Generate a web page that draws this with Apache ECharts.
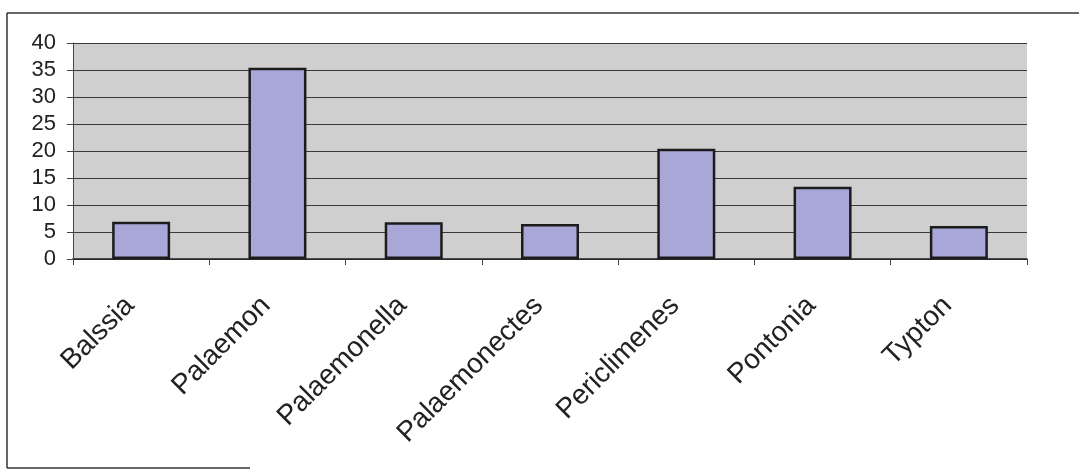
<!DOCTYPE html>
<html>
<head>
<meta charset="utf-8">
<script src="https://cdn.jsdelivr.net/npm/echarts@6/dist/echarts.min.js"></script>
<style>
html,body{margin:0;padding:0;background:#fff;}
#chart{width:1079px;height:469px;}
</style>
</head>
<body>
<div id="chart"></div>
<script>
const categories = ['Balssia', 'Palaemon', 'Palaemonella', 'Palaemonectes', 'Periclimenes', 'Pontonia', 'Typton'];
const values = [6.9, 35.4, 6.8, 6.5, 20.4, 13.4, 6.1];
const yMin = 0, yMax = 40, yStep = 5;

const chart = echarts.init(document.getElementById('chart'), null, {renderer: 'canvas'});
chart.setOption({
  backgroundColor: '#ffffff',
  animation: false,
  grid: {
    left: 73, right: 52, top: 43, bottom: 210,
    show: true, backgroundColor: '#cfcfcf', borderWidth: 0
  },
  xAxis: {
    type: 'category',
    data: categories,
    boundaryGap: true,
    axisLine: {show: true, lineStyle: {color: '#222', width: 1.5}},
    axisTick: {show: true, length: 6, lineStyle: {color: '#444'}},
    axisLabel: {
      rotate: 45, fontSize: 28, color: '#222',
      fontFamily: 'Liberation Sans, Arial, sans-serif', margin: 31,
      padding: [0, 16, 0, 0]
    }
  },
  yAxis: {
    type: 'value',
    min: yMin, max: yMax, interval: yStep,
    axisLine: {show: true, lineStyle: {color: '#444', width: 1}},
    axisTick: {show: true, length: 6, lineStyle: {color: '#444'}},
    axisLabel: {fontSize: 22, color: '#222', fontFamily: 'Liberation Sans, Arial, sans-serif', margin: 17},
    splitLine: {show: true, lineStyle: {color: '#3a3a3a', width: 1}}
  },
  series: [{
    type: 'bar',
    data: values,
    barWidth: 58,
    itemStyle: {color: '#a9a7d8', borderColor: '#1c1c1c', borderWidth: 2.5}
  }],
  graphic: [
    {type: 'line', shape: {x1: 7, y1: 13, x2: 1079, y2: 13}, style: {stroke: '#333', lineWidth: 1.5}},
    {type: 'line', shape: {x1: 7, y1: 13, x2: 7, y2: 468}, style: {stroke: '#333', lineWidth: 1.5}},
    {type: 'line', shape: {x1: 7, y1: 468, x2: 250, y2: 468}, style: {stroke: '#333', lineWidth: 1.5}}
  ]
});
</script>
</body>
</html>
